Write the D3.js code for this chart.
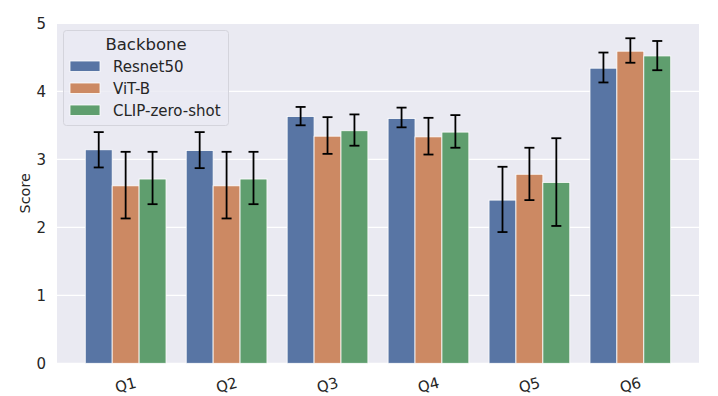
<!DOCTYPE html>
<html>
<head>
<meta charset="utf-8">
<style>
  body { margin: 0; background: #fff; }
  text { font-family: "DejaVu Sans", sans-serif; fill: #262626; }
</style>
</head>
<body>
<div id="chart"></div>
<script src="https://d3js.org/d3.v7.min.js"></script>
<script>
  // data
  const categories = ["Q1", "Q2", "Q3", "Q4", "Q5", "Q6"];
  const series = ["Resnet50", "ViT-B", "CLIP-zero-shot"];
  const colors = ["#5875a4", "#cc8963", "#5f9e6e"];

  const resnetMean = [3.14, 3.13, 3.63, 3.60, 2.40, 4.34];
  const resnetLow  = [2.88, 2.87, 3.50, 3.47, 1.93, 4.13];
  const resnetHigh = [3.40, 3.40, 3.77, 3.76, 2.89, 4.57];

  const vitMean = [2.61, 2.61, 3.34, 3.33, 2.78, 4.59];
  const vitLow  = [2.13, 2.13, 3.08, 3.07, 2.40, 4.42];
  const vitHigh = [3.11, 3.11, 3.62, 3.61, 3.17, 4.78];

  const clipMean = [2.71, 2.71, 3.42, 3.40, 2.66, 4.52];
  const clipLow  = [2.34, 2.34, 3.20, 3.17, 2.02, 4.31];
  const clipHigh = [3.11, 3.11, 3.66, 3.65, 3.31, 4.74];

  const yTicks = [0, 1, 2, 3, 4, 5];

  const means = [resnetMean, vitMean, clipMean];
  const lows = [resnetLow, vitLow, clipLow];
  const highs = [resnetHigh, vitHigh, clipHigh];

  const W = 718, H = 396;
  const margin = { top: 23.3, right: 19, bottom: 32.7, left: 57 };

  const svg = d3.select("#chart").append("svg")
    .attr("width", W)
    .attr("height", H);

  const x = d3.scaleLinear()
    .domain([-0.68, categories.length - 1 + 0.68])
    .range([margin.left, W - margin.right]);

  const y = d3.scaleLinear()
    .domain([0, 5])
    .range([H - margin.bottom, margin.top]);

  // background
  svg.append("rect")
    .attr("x", margin.left)
    .attr("y", margin.top)
    .attr("width", W - margin.right - margin.left)
    .attr("height", H - margin.bottom - margin.top)
    .attr("fill", "#eaeaf2");

  // gridlines
  svg.append("g")
    .selectAll("line")
    .data(yTicks)
    .join("line")
    .attr("x1", margin.left)
    .attr("x2", W - margin.right)
    .attr("y1", d => y(d))
    .attr("y2", d => y(d))
    .attr("stroke", "#fff")
    .attr("stroke-width", 1.2);

  // y axis
  const yAxis = svg.append("g")
    .attr("transform", "translate(" + margin.left + ",0)")
    .call(d3.axisLeft(y).tickValues(yTicks).tickSize(0).tickPadding(11).tickFormat(d3.format("d")));
  yAxis.select(".domain").remove();
  yAxis.selectAll("text")
    .style("font-size", "15px")
    .style("font-family", "DejaVu Sans");

  svg.append("text")
    .attr("transform", "translate(30," + ((margin.top + H - margin.bottom) / 2) + ") rotate(-90)")
    .attr("text-anchor", "middle")
    .style("font-size", "14.4px")
    .text("Score");

  // x axis labels, rotated
  svg.append("g")
    .selectAll("text")
    .data(categories)
    .join("text")
    .attr("transform", (d, i) => "translate(" + x(i) + ",385) rotate(-15)")
    .attr("text-anchor", "middle")
    .attr("dy", "0.35em")
    .style("font-size", "15px")
    .text(d => d);

  // bars
  const bw = 0.8 / series.length;
  const barW = x(bw) - x(0);

  series.forEach((s, j) => {
    const off = (j - 1) * bw;
    const g = svg.append("g");
    g.selectAll("rect")
      .data(means[j])
      .join("rect")
      .attr("x", (d, i) => x(i + off) - barW / 2)
      .attr("y", d => y(d))
      .attr("width", barW)
      .attr("height", d => y(0) - y(d))
      .attr("fill", colors[j])
      .attr("stroke", "#fff")
      .attr("stroke-width", 0.8);
  });

  // error bars
  const capW = 5;
  series.forEach((s, j) => {
    const off = (j - 1) * bw;
    const g = svg.append("g")
      .attr("stroke", "#000")
      .attr("stroke-width", 1.8);
    categories.forEach((c, i) => {
      const cx = x(i + off);
      g.append("line")
        .attr("x1", cx).attr("x2", cx)
        .attr("y1", y(lows[j][i])).attr("y2", y(highs[j][i]));
      g.append("line")
        .attr("x1", cx - capW).attr("x2", cx + capW)
        .attr("y1", y(lows[j][i])).attr("y2", y(lows[j][i]));
      g.append("line")
        .attr("x1", cx - capW).attr("x2", cx + capW)
        .attr("y1", y(highs[j][i])).attr("y2", y(highs[j][i]));
    });
  });

  // legend
  const lg = svg.append("g").attr("transform", "translate(63.5,30.5)");
  lg.append("rect")
    .attr("width", 165)
    .attr("height", 95)
    .attr("rx", 3)
    .attr("fill", "#eaeaf2")
    .attr("fill-opacity", 0.8)
    .attr("stroke", "#d4d4dc")
    .attr("stroke-width", 1);
  lg.append("text")
    .attr("x", 82.5)
    .attr("y", 19)
    .attr("text-anchor", "middle")
    .style("font-size", "16.5px")
    .text("Backbone");
  series.forEach((s, j) => {
    const ry = 30.5 + j * 22;
    lg.append("rect")
      .attr("x", 6.5)
      .attr("y", ry)
      .attr("width", 30)
      .attr("height", 10.5)
      .attr("fill", colors[j])
      .attr("stroke", "#fff")
      .attr("stroke-width", 0.8);
    lg.append("text")
      .attr("x", 49.5)
      .attr("y", ry + 5.5)
      .attr("dy", "0.35em")
      .style("font-size", "15px")
      .text(s);
  });
</script>
</body>
</html>
